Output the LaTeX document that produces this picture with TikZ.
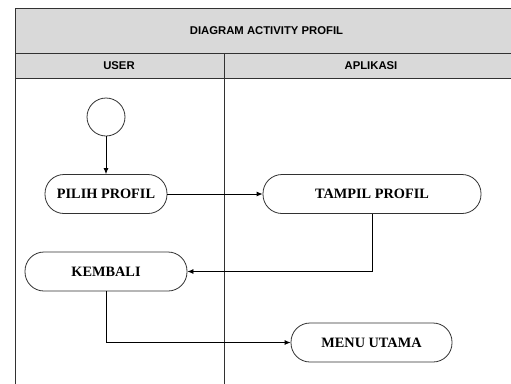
\documentclass[tikz,border=0pt]{standalone}
\usepackage{fontspec}
\setmainfont{Liberation Serif}
\newfontfamily\hdrfont{Liberation Sans}
\usetikzlibrary{arrows.meta}
\definecolor{hdrgrey}{RGB}{217,217,217}
\definecolor{linegrey}{RGB}{50,50,50}
\tikzset{
  frame/.style={draw=linegrey, line width=0.9pt},
  hdrtext/.style={font=\hdrfont\bfseries\fontsize{11.3}{13}\selectfont, inner sep=0pt},
  act/.style={draw=linegrey, line width=0.8pt, rounded corners=19pt, minimum height=39pt, inner sep=0pt,
    font=\bfseries\fontsize{14.3}{16}\selectfont},
  startnode/.style={circle, draw=linegrey, line width=0.8pt, minimum size=38pt, inner sep=0pt},
  arr/.style={draw=black, line width=0.8pt, -{Latex[length=6pt,width=5pt]}}
}
\begin{document}
\begin{tikzpicture}[x=1pt,y=-1pt]
\useasboundingbox (0,0) rectangle (511,383);
\clip (0,0) rectangle (511,383);
\fill[white] (0,0) rectangle (511,383);
\fill[hdrgrey] (15,8) rectangle (530,78);
\draw[frame] (530,8) -- (15,8) -- (15,400);
\draw[frame] (15,53) -- (530,53);
\draw[frame] (15,78) -- (530,78);
\draw[frame] (224,53) -- (224,400);
\node[hdrtext] (title) at (266.5,30.5) {DIAGRAM ACTIVITY PROFIL};
\node[hdrtext] (user) at (119,65.5) {USER};
\node[hdrtext] (apl) at (371,65.5) {APLIKASI};

\node[startnode] (start) at (106,117) {};
\node[act, minimum width=122pt] (pilih) at (106,194) {PILIH PROFIL};
\node[act, minimum width=218pt] (tampil) at (372,194) {TAMPIL PROFIL};
\node[act, minimum width=162pt] (kembali) at (106,271.5) {KEMBALI};
\node[act, minimum width=161pt] (menu) at (371.5,342.5) {MENU UTAMA};

\draw[arr] (start) -- (pilih);
\draw[arr] (pilih.east) -- (tampil.west);
\draw[arr] (tampil.south) |- (kembali.east);
\draw[arr] (kembali.south) |- (menu.west);
\end{tikzpicture}
\end{document}
